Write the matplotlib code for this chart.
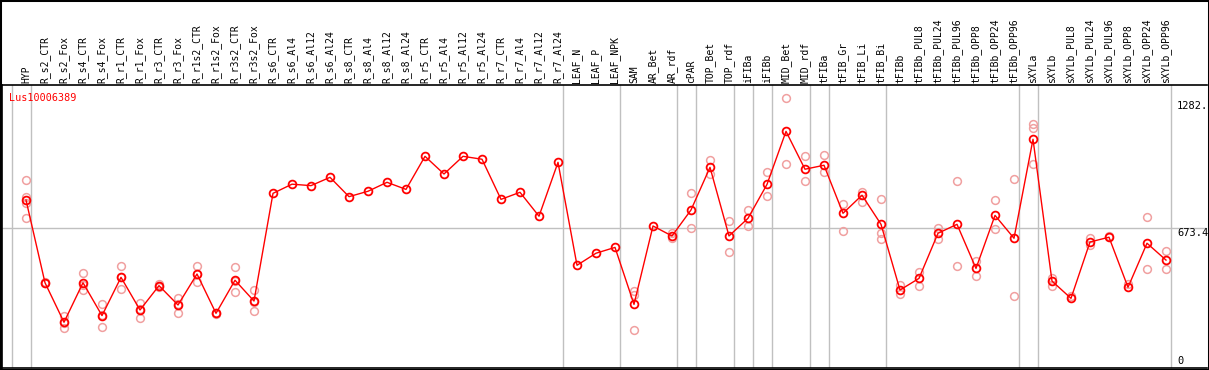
import matplotlib
matplotlib.use('Agg')
import matplotlib.pyplot as plt
from matplotlib.patches import Rectangle

categories = ["HYP", "R_s2_CTR", "R_s2_Fox", "R_s4_CTR", "R_s4_Fox", "R_r1_CTR", "R_r1_Fox",
              "R_r3_CTR", "R_r3_Fox", "R_r1s2_CTR", "R_r1s2_Fox", "R_r3s2_CTR", "R_r3s2_Fox",
              "R_s6_CTR", "R_s6_Al4", "R_s6_Al12", "R_s6_Al24", "R_s8_CTR", "R_s8_Al4", "R_s8_Al12",
              "R_s8_Al24", "R_r5_CTR", "R_r5_Al4", "R_r5_Al12", "R_r5_Al24", "R_r7_CTR", "R_r7_Al4",
              "R_r7_Al12", "R_r7_Al24", "LEAF_N", "LEAF_P", "LEAF_NPK", "SAM", "AR_Bet", "AR_rdf",
              "cPAR", "TOP_Bet", "TOP_rdf", "iFIBa", "iFIBb", "MID_Bet", "MID_rdf", "tFIBa",
              "tFIB_Gr", "tFIB_Li", "tFIB_Bi", "tFIBb", "tFIBb_PUL8", "tFIBb_PUL24", "tFIBb_PUL96",
              "tFIBb_OPP8", "tFIBb_OPP24", "tFIBb_OPP96", "sXYLa", "sXYLb", "sXYLb_PUL8",
              "sXYLb_PUL24", "sXYLb_PUL96", "sXYLb_OPP8", "sXYLb_OPP24", "sXYLb_OPP96"]

means = [808, 410, 220, 410, 252, 436, 279, 396, 303, 452, 263, 422, 322,
         840, 884, 877, 917, 824, 850, 893, 859, 1018, 933, 1018, 1004, 811, 845, 730, 989,
         494, 552, 580, 306, 683, 635, 760, 965, 635, 720, 883, 1138, 956, 975,
         744, 831, 691, 375, 431, 648, 691, 479, 734, 624, 1100, 418, 335, 606, 629, 388, 600, 519]

replicates = [
    [904, 824, 792, 723],
    [408, 410, 412],
    [252, 191, 217],
    [457, 374, 399],
    [306, 196, 254],
    [489, 379, 440],
    [314, 239, 284],
    [403, 396, 389],
    [335, 266, 308],
    [489, 415, 452],
    [260, 265, 264],
    [484, 364, 418],
    [375, 274, 317],
    [], [], [], [], [], [], [], [], [], [], [], [], [], [], [], [],
    [], [], [],
    [370, 352, 183],
    [],
    [648, 624],
    [840, 672],
    [1000, 932],
    [707, 557],
    [760, 683],
    [941, 827],
    [1297, 981],
    [1020, 900],
    [1025, 944],
    [787, 659],
    [848, 800],
    [813, 648, 620],
    [399, 354],
    [460, 396],
    [675, 620],
    [898, 489],
    [515, 444],
    [807, 667],
    [909, 345],
    [1172, 1156, 981],
    [434, 396],
    [346],
    [624, 592],
    [635],
    [403],
    [725, 475],
    [563, 475],
]

separators = [-1, 0, 28, 31, 34, 35, 37, 38, 39, 41, 42, 45, 52, 53, 60]
ytick_vals = [0, 673.4, 1282]
ytick_text = ["0", "673.4", "1282."]
title = "Lus10006389"

W, H = 1209, 370
fig = plt.figure(figsize=(W / 100, H / 100), dpi=100)
ax = fig.add_axes([2 / W, 2 / H, 1205 / W, 283 / H])

x = list(range(len(categories)))
ax.set_xlim(-24 / 19, 1181 / 19)
ax.set_ylim(0, 1361)

grey = '#c0c0c0'
for s in separators:
    ax.axvline(s + 0.247, color=grey, lw=1, zorder=1)
ax.axhline(673.4, color=grey, lw=1, zorder=1)

for i, reps in enumerate(replicates):
    if reps:
        ax.plot([i] * len(reps), reps, linestyle='none', marker='o', ms=5.6,
                mfc='none', mec='#f0a0a0', mew=1.1, zorder=2)

ax.plot(x, means, color='#ff0000', lw=1, marker='o', ms=5.6, mfc='none',
        mec='#ff0000', mew=1.3, zorder=3)

ax.xaxis.tick_top()
ax.set_xticks(x)
ax.set_xticklabels(categories, rotation=90, fontfamily='DejaVu Sans Mono', fontsize=7)
ax.tick_params(axis='x', length=0, pad=1.5)
ax.set_yticks([])

for sp in ['left', 'bottom', 'top']:
    ax.spines[sp].set_color('black')
    ax.spines[sp].set_linewidth(1.2)
ax.spines['right'].set_visible(False)

xr = lambda px: (px - 26) / 19
for v, t in zip(ytick_vals, ytick_text):
    va = 'bottom' if v == 0 else 'top'
    ax.text(xr(1177), v + (8 if v == 0 else 0), t, fontfamily='DejaVu Sans Mono', fontsize=7.5,
            ha='left', va=va, color='black', clip_on=False)

ax.text(xr(9), 1361 - 8 * 673.4 / 140, title, color='#ff0000', fontfamily='DejaVu Sans Mono',
        fontsize=7.3, ha='left', va='top')

fig.add_artist(Rectangle((0, 0), 1, 1, transform=fig.transFigure, fill=False,
                         ec='black', lw=2.2))

fig.savefig('out.png', dpi=100)
